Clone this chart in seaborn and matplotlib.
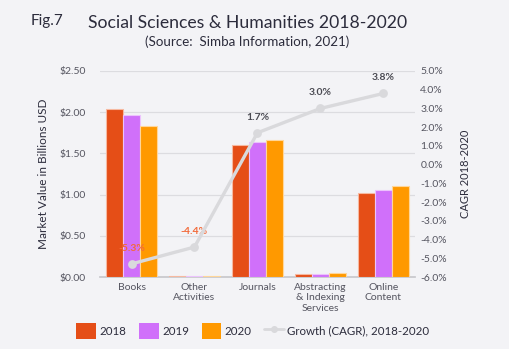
import matplotlib
matplotlib.use("Agg")
import matplotlib.pyplot as plt
from matplotlib.ticker import FuncFormatter, MultipleLocator
from matplotlib.lines import Line2D
from matplotlib.patches import Patch
import seaborn as sns
import pandas as pd

# Market segments and values (billions USD)
categories = ["Books", "Other\nActivities", "Journals", "Abstracting\n& Indexing\nServices", "Online\nContent"]
years = ["2018", "2019", "2020"]
values_2018 = [2.04, 0.01, 1.60, 0.04, 1.02]
values_2019 = [1.96, 0.01, 1.64, 0.04, 1.06]
values_2020 = [1.83, 0.01, 1.66, 0.045, 1.10]
# Compound annual growth 2018-2020 (%)
cagr = [-5.3, -4.4, 1.7, 3.0, 3.8]
cagr_labels = ["-5.3%", "-4.4%", "1.7%", "3.0%", "3.8%"]

bar_colors = ["#e54e17", "#d070fa", "#ff9900"]
edge_colors = ["#f6b9a0", "#ecc3fd", "#ffd69a"]
line_color = "#d9d9dc"
bg = "#f3f3f6"
text_dark = "#2c2c3c"
tick_grey = "#555560"

rows = []
for yr, vals in zip(years, [values_2018, values_2019, values_2020]):
    for c, v in zip(categories, vals):
        rows.append({"Segment": c, "Year": yr, "Value": v})
df = pd.DataFrame(rows)
growth = pd.DataFrame({"Segment": categories, "CAGR": cagr})

sns.set_theme(style="white")
plt.rcParams["font.family"] = ["Lato", "DejaVu Sans"]

fig = plt.figure(figsize=(5.09, 3.49), dpi=100, facecolor=bg)
ax = fig.add_axes([0.1965, 0.2063, 0.6185, 0.5903])
ax.set_facecolor(bg)

sns.barplot(data=df, x="Segment", y="Value", hue="Year", palette=bar_colors,
            saturation=1, width=0.8, ax=ax, legend=False, zorder=3)
for i, patch in enumerate(ax.patches):
    patch.set_edgecolor(edge_colors[i // len(categories)])
    patch.set_linewidth(0.8)

ax.set_ylim(0, 2.5)
ax.set_xlim(-0.5, 4.5)
ax.yaxis.set_major_locator(MultipleLocator(0.5))
ax.yaxis.set_major_formatter(FuncFormatter(lambda v, p: f"${v:.2f}"))
ax.grid(axis="y", color="#dcdce0", linewidth=0.9, zorder=0)
ax.set_axisbelow(True)
for s in ["top", "left", "right"]:
    ax.spines[s].set_visible(False)
ax.spines["bottom"].set_color("#c8c8cc")
ax.tick_params(axis="y", length=0, pad=10, labelsize=7.5, labelcolor=tick_grey)
ax.tick_params(axis="x", length=0, pad=4, labelsize=7.5, labelcolor=tick_grey)
for lbl in ax.get_xticklabels():
    lbl.set_linespacing(1.25)
ax.set_xlabel("")
ax.set_ylabel("Market Value in Billions USD", fontsize=8.5, color=text_dark, labelpad=8)

ax2 = ax.twinx()
sns.pointplot(data=growth, x="Segment", y="CAGR", color=line_color, ax=ax2,
              markers="o", markersize=4.5, linewidth=2.4, zorder=5)
ax2.set_xlim(-0.5, 4.5)
ax2.set_ylim(-6, 5)
ax2.yaxis.set_major_locator(MultipleLocator(1))
ax2.yaxis.set_major_formatter(FuncFormatter(lambda v, p: f"{v:.1f}%"))
ax2.tick_params(axis="y", length=0, pad=4, labelsize=7.5, labelcolor=tick_grey)
for s in ax2.spines.values():
    s.set_visible(False)
ax2.set_ylabel("CAGR 2018-2020", fontsize=8, color=text_dark, labelpad=9)

label_colors = ["#f26a3a" if v < 0 else "#4a4a52" for v in cagr]
for i, (v, t, col) in enumerate(zip(cagr, cagr_labels, label_colors)):
    ax2.annotate(t, (i, v), xytext=(0, 8), textcoords="offset points",
                 ha="center", va="bottom", fontsize=7.5, fontweight="bold", color=col)

fig.text(0.061, 0.94, "Fig.7", fontsize=11, color=text_dark, ha="left", va="center")
fig.text(0.487, 0.933, "Social Sciences & Humanities 2018-2020", fontsize=12.7,
         color=text_dark, ha="center", va="center")
fig.text(0.486, 0.88, "(Source:  Simba Information, 2021)", fontsize=9.6,
         color=text_dark, ha="center", va="center")

handles = [Patch(facecolor=c, edgecolor="none") for c in bar_colors]
handles.append(Line2D([0], [0], color=line_color, linewidth=2, marker="o", markersize=4))
fig.legend(handles, years + ["Growth (CAGR), 2018-2020"], loc="center",
           bbox_to_anchor=(0.497, 0.052), ncol=4, frameon=False, fontsize=8.3,
           labelcolor=text_dark, handlelength=1.7, handleheight=1.7,
           handletextpad=0.3, columnspacing=1.1)

fig.savefig("out.png", dpi=100, facecolor=bg)
